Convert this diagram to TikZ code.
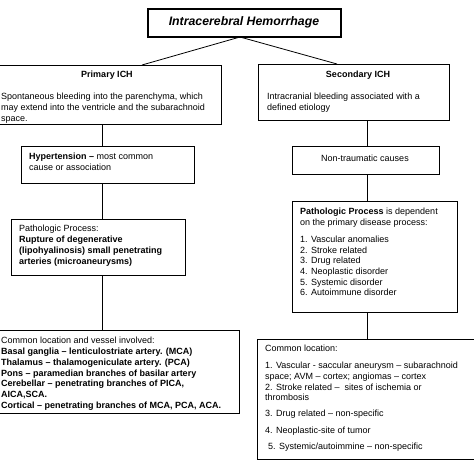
\documentclass[tikz,border=0pt]{standalone}
\usepackage{fontspec}
\setmainfont{Liberation Sans}
\begin{document}
\begin{tikzpicture}[x=1pt,y=-1pt,
  box/.style={draw=black, line width=0.9pt, rectangle, inner sep=0pt, outer sep=0pt, anchor=north west},
  txt/.style={inner sep=0pt, anchor=north west, align=left, font=\fontsize{9}{10.7}\selectfont},
  ctxt/.style={inner sep=0pt, anchor=center, font=\fontsize{9}{10.7}\selectfont},
  conn/.style={draw=black, line width=0.8pt}]
\useasboundingbox[fill=white] (0,0) rectangle (474,474);

% boxes
\node[box, line width=1.1pt, minimum width=193pt, minimum height=28pt] (t) at (148,9) {};
\node[box, minimum width=222pt, minimum height=59pt] (prim) at (-1,65) {};
\node[box, minimum width=191pt, minimum height=56pt] (sec) at (258,64) {};
\node[box, minimum width=173pt, minimum height=37pt] (hyp) at (21,146) {};
\node[box, minimum width=147pt, minimum height=28pt] (nt) at (292,146) {};
\node[box, minimum width=174pt, minimum height=56pt] (pl) at (11,219) {};
\node[box, minimum width=165pt, minimum height=111pt] (pr) at (292,201) {};
\node[box, minimum width=240pt, minimum height=83pt] (cl) at (-1,330) {};
\node[box, minimum width=219pt, minimum height=120pt] (cr) at (257,339) {};

% texts
\node[inner sep=0pt, font=\fontsize{12.3}{14}\selectfont\bfseries\itshape] (tt) at (244,22) {Intracerebral Hemorrhage};
\node[ctxt, font=\fontsize{9}{10.7}\selectfont\bfseries] (pt) at (107,75) {Primary ICH};
\node[ctxt, font=\fontsize{9}{10.7}\selectfont\bfseries] (st) at (358,75) {Secondary ICH};
\node[txt] (ptx) at (1,93.2) {Spontaneous bleeding into the parenchyma, which\\may extend into the ventricle and the subarachnoid\\space.};
\node[txt] (stx) at (267,93.2) {Intracranial bleeding associated with a\\defined etiology};
\node[txt] (hyx) at (29,153.2) {\textbf{Hypertension –} most common\\cause or association};
\node[ctxt] (ntx) at (365,158) {Non-traumatic causes};
\node[txt] (plx) at (19,225.2) {Pathologic Process:\\\textbf{Rupture of degenerative}\\\textbf{(lipohyalinosis) small penetrating}\\\textbf{arteries (microaneurysms)}};
\node[txt] (prx) at (300,208.2) {\textbf{Pathologic Process} is dependent\\on the primary disease process:\\[6pt]1. Vascular anomalies\\2. Stroke related\\3. Drug related\\4. Neoplastic disorder\\5. Systemic disorder\\6. Autoimmune disorder};
\node[txt] (clx) at (1,337.2) {Common location and vessel involved:\\\textbf{Basal ganglia – lenticulostriate artery. (MCA)}\\\textbf{Thalamus – thalamogeniculate artery. (PCA)}\\\textbf{Pons – paramedian branches of basilar artery}\\\textbf{Cerebellar – penetrating branches of PICA,}\\\textbf{AICA,SCA.}\\\textbf{Cortical – penetrating branches of MCA, PCA, ACA.}};
\node[txt] (crx) at (265,345.2) {Common location:\\[6pt]1. Vascular - saccular aneurysm – subarachnoid\\space; AVM – cortex; angiomas – cortex\\2. Stroke related –\ \ sites of ischemia or\\thrombosis\\[5.5pt]3. Drug related – non-specific\\[6pt]4. Neoplastic-site of tumor\\[5.5pt]\hspace*{3pt}5. Systemic/autoimmine – non-specific};

% connectors
\coordinate (lc) at (102,0);
\coordinate (rc) at (367.5,0);
\draw[conn] ([xshift=-4.5pt]t.south) -- ([xshift=32pt]prim.north);
\draw[conn] ([xshift=-4.5pt]t.south) -- ([xshift=-16.5pt]sec.north);
\draw[conn] (prim.south -| lc) -- (hyp.north -| lc);
\draw[conn] (hyp.south -| lc) -- (pl.north -| lc);
\draw[conn] (pl.south -| lc) -- (cl.north -| lc);
\draw[conn] (sec.south -| rc) -- (nt.north -| rc);
\draw[conn] (nt.south -| rc) -- (pr.north -| rc);
\draw[conn] (pr.south -| rc) -- (cr.north -| rc);
\end{tikzpicture}
\end{document}
